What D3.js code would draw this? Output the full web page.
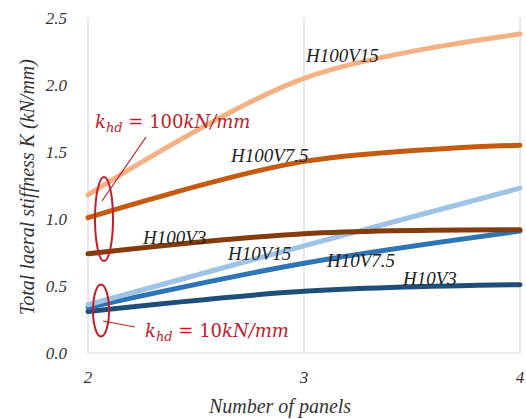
<!DOCTYPE html>
<html>
<head>
<meta charset="utf-8">
<script src="https://cdn.jsdelivr.net/npm/d3@7"></script>
<style>
  body { margin: 0; background: #fff; }
</style>
</head>
<body>
<div id="chart"></div>
<script>
// Data
var panels = [2, 3, 4];
var yTicks = [0.0, 0.5, 1.0, 1.5, 2.0, 2.5];
var seriesNames = ["H100V15", "H100V7.5", "H100V3", "H10V15", "H10V7.5", "H10V3"];
var H100V15 = [1.18, 2.05, 2.38];
var H100V75 = [1.01, 1.43, 1.55];
var H100V3 = [0.74, 0.89, 0.92];
var H10V15 = [0.36, 0.80, 1.23];
var H10V75 = [0.34, 0.67, 0.91];
var H10V3 = [0.31, 0.46, 0.51];
var colors = ["#F4B183", "#C55A11", "#843C0C", "#9DC3E6", "#2E75B6", "#1F4E79"];

(function(){
	var W = 526, H = 419;
	var margin = {left: 88, right: 6, top: 18, bottom: 66};
	var serif = "'Liberation Serif', 'Times New Roman', Times, 'DejaVu Serif', serif";

	var svg = d3.select("#chart").append("svg")
		.attr("width", W).attr("height", H)
		.attr("font-family", serif)
		.attr("font-style", "italic");

	var x = d3.scaleLinear().domain([2, 4]).range([margin.left, W - margin.right]);
	var y = d3.scaleLinear().domain([0, 2.5]).range([H - margin.bottom, margin.top]);

	// vertical gridlines
	svg.selectAll(".grid").data(panels).enter().append("line")
		.attr("x1", function(d){ return x(d); })
		.attr("x2", function(d){ return x(d); })
		.attr("y1", y(2.5)).attr("y2", y(0))
		.attr("stroke", "#d9d9d9").attr("stroke-width", 1.2);

	// bottom axis line
	svg.append("line")
		.attr("x1", x(2)).attr("x2", x(4))
		.attr("y1", y(0)).attr("y2", y(0))
		.attr("stroke", "#d9d9d9").attr("stroke-width", 1.2);

	// y tick labels
	svg.selectAll(".ytick").data(yTicks).enter().append("text")
		.attr("x", 67).attr("y", function(d){ return y(d) + 6; })
		.attr("text-anchor", "end")
		.attr("font-size", 17).attr("fill", "#333")
		.text(function(d){ return d.toFixed(1); });

	// x tick labels
	svg.selectAll(".xtick").data(panels).enter().append("text")
		.attr("x", function(d){ return x(d); }).attr("y", 383)
		.attr("text-anchor", "middle")
		.attr("font-size", 17).attr("fill", "#333")
		.text(function(d){ return d; });

	// axis titles
	svg.append("text")
		.attr("x", 280).attr("y", 413)
		.attr("text-anchor", "middle")
		.attr("font-size", 20).attr("fill", "#333")
		.text("Number of panels");

	svg.append("text")
		.attr("transform", "translate(34," + 187 + ") rotate(-90)")
		.attr("text-anchor", "middle")
		.attr("font-size", 20).attr("fill", "#333")
		.text("Total laeral stiffness K (kN/mm)");

	// lines
	var allSeries = [H100V15, H100V75, H100V3, H10V15, H10V75, H10V3];
	var line = d3.line()
		.x(function(d, i){ return x(panels[i]); })
		.y(function(d){ return y(d); })
		.curve(d3.curveCatmullRom.alpha(0.5));

	var order = [5, 4, 3, 2, 1, 0];
	order.forEach(function(k){
		svg.append("path")
			.datum(allSeries[k])
			.attr("d", line)
			.attr("fill", "none")
			.attr("stroke", colors[k])
			.attr("stroke-width", 5)
			.attr("stroke-linecap", "round");
	});

	// series labels
	var labelPos = [[306, 62], [231, 162], [143, 244], [228, 260], [327, 267], [403, 285]];
	seriesNames.forEach(function(name, k){
		svg.append("text")
			.attr("x", labelPos[k][0]).attr("y", labelPos[k][1])
			.attr("font-size", 19).attr("fill", "#222")
			.text(name);
	});

	// annotations
	var red = "#C0202A";
	svg.append("ellipse")
		.attr("cx", 104).attr("cy", 219).attr("rx", 9).attr("ry", 42)
		.attr("fill", "none").attr("stroke", red).attr("stroke-width", 2);
	svg.append("ellipse")
		.attr("cx", 101).attr("cy", 310.5).attr("rx", 8).attr("ry", 26)
		.attr("fill", "none").attr("stroke", red).attr("stroke-width", 2);
	svg.append("line")
		.attr("x1", 146).attr("y1", 137).attr("x2", 102).attr("y2", 201)
		.attr("stroke", red).attr("stroke-width", 1.2);
	svg.append("line")
		.attr("x1", 103).attr("y1", 321).attr("x2", 135).attr("y2", 327)
		.attr("stroke", red).attr("stroke-width", 1.2);

	function kLabel(tx, ty, value){
		var t = svg.append("text")
			.attr("x", tx).attr("y", ty)
			.attr("font-size", 18).attr("fill", red)
			.attr("font-family", "'DejaVu Serif', serif");
		t.append("tspan").text("k");
		t.append("tspan").attr("font-size", 13).attr("dy", 4).text("hd");
		t.append("tspan").attr("dy", -4).attr("font-style", "normal").text(" = " + value);
		t.append("tspan").text("kN/mm");
	}
	kLabel(95, 128, "100");
	kLabel(145, 337, "10");
})();
</script>
</body>
</html>
